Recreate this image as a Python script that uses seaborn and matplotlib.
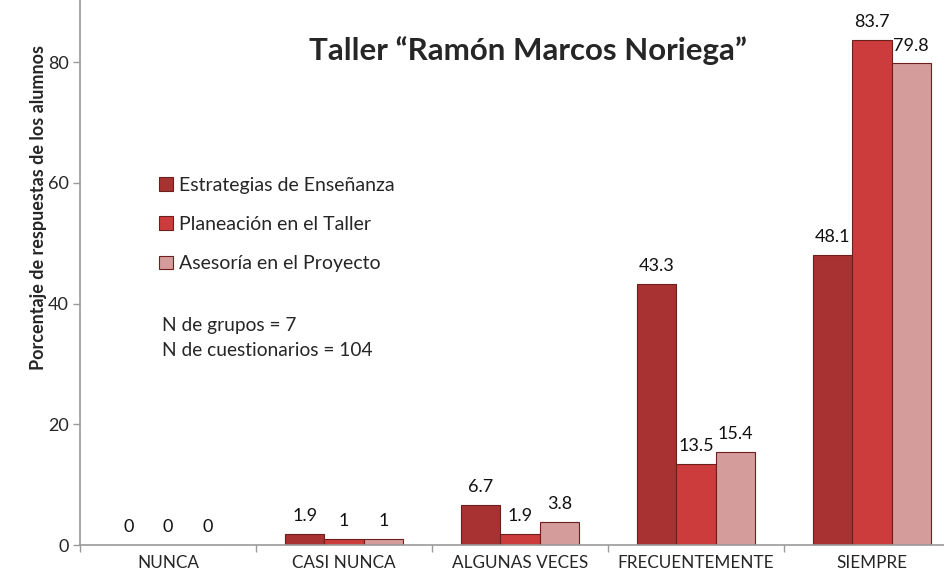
import pandas as pd
import seaborn as sns
import matplotlib.pyplot as plt
from matplotlib.patches import Patch

# Data
categories = ["NUNCA", "CASI NUNCA", "ALGUNAS VECES", "FRECUENTEMENTE", "SIEMPRE"]
series = ["Estrategias de Enseñanza", "Planeación en el Taller", "Asesoría en el Proyecto"]
estrategias = [0, 1.9, 6.7, 43.3, 48.1]
planeacion = [0, 1, 1.9, 13.5, 83.7]
asesoria = [0, 1, 3.8, 15.4, 79.8]
colors = ["#A83232", "#CD3C3C", "#D59C9C"]


def build_df():
    rows = []
    for name, vals in zip(series, [estrategias, planeacion, asesoria]):
        for cat, v in zip(categories, vals):
            rows.append({"categoria": cat, "serie": name, "valor": v})
    return pd.DataFrame(rows)


def main():
    df = build_df()
    sns.set_style("white")
    plt.rcParams["font.family"] = ["Lato", "DejaVu Sans"]

    fig = plt.figure(figsize=(9.44, 5.77), dpi=100)
    ax = fig.add_axes([80 / 944, 32 / 577, 880 / 944, 545 / 577])

    sns.barplot(
        data=df, x="categoria", y="valor", hue="serie", order=categories,
        hue_order=series, palette=colors, width=0.67, saturation=1,
        edgecolor="#6E1E1E", linewidth=0.8, ax=ax, legend=False,
    )

    # value labels above every bar
    for cont, vals in zip(ax.containers, [estrategias, planeacion, asesoria]):
        ax.bar_label(cont, labels=[f"{v:g}" for v in vals], padding=7,
                     fontsize=13, color="#111111")

    ax.set_xlim(-0.5, 4.5)
    ax.set_ylim(0, 90.3)
    ax.set_yticks([0, 20, 40, 60, 80])
    ax.tick_params(axis="y", labelsize=13, length=5, width=1, color="#999999",
                   direction="out", left=True, pad=3)
    ax.tick_params(axis="x", labelsize=12.3, length=0, pad=7)
    ax.set_xticks(range(len(categories)), categories)
    ax.set_xticks([i - 0.5 for i in range(len(categories) + 1)], minor=True)
    ax.tick_params(axis="x", which="minor", length=5, width=1, color="#999999",
                   direction="out", bottom=True)
    ax.set_xlabel("")
    ax.set_ylabel("Porcentaje de respuestas de los alumnos", fontsize=13,
                  fontweight="bold")
    ax.yaxis.set_label_coords(-0.038, 0.62)

    for s in ["top", "right"]:
        ax.spines[s].set_visible(False)
    for s in ["left", "bottom"]:
        ax.spines[s].set_color("#999999")
        ax.spines[s].set_linewidth(1.2)

    fig.text(528 / 944, 1 - 51 / 577, "Taller \u201cRamón Marcos Noriega\u201d",
             ha="center", va="center", fontsize=22.5, fontweight="bold")

    handles = [Patch(facecolor=c, edgecolor="#6E1E1E", linewidth=0.8) for c in colors]
    ax.legend(handles, series, loc="center left", bbox_to_anchor=(0.09, 0.588),
              frameon=False, fontsize=14, handlelength=0.7, handleheight=0.7,
              handletextpad=0.3, labelspacing=1.14, borderaxespad=0,
              borderpad=0)

    fig.text(162 / 944, 1 - 325 / 577, "N de grupos = 7", fontsize=13.8, va="center")
    fig.text(162 / 944, 1 - 351 / 577, "N de cuestionarios = 104", fontsize=13.8,
             va="center")

    fig.savefig("out.png", dpi=100)
    plt.close(fig)


if __name__ == "__main__":
    main()
